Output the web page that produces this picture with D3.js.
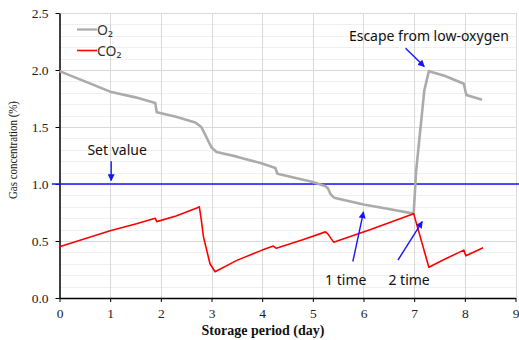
<!DOCTYPE html>
<html><head><meta charset="utf-8">
<script src="https://cdn.jsdelivr.net/npm/d3@7"></script>
<style>
html,body{margin:0;padding:0;background:#fff;}
svg{display:block;}
</style></head>
<body>
<svg id="chart" width="519" height="340"></svg>
<script>
// ---- data ----
const o2Day = [0, 0.5, 1.0, 1.5, 1.89, 1.92, 2.3, 2.68, 2.8, 2.9, 3.0, 3.1, 3.5, 4.0, 4.26, 4.3, 4.6, 4.98, 5.25, 5.3, 5.35, 5.42, 5.7, 6.0, 6.5, 6.99, 7.04, 7.2, 7.29, 7.6, 7.98, 8.03, 8.34];
const o2Val = [1.99, 1.90, 1.81, 1.76, 1.71, 1.63, 1.59, 1.54, 1.50, 1.41, 1.32, 1.28, 1.24, 1.18, 1.14, 1.09, 1.06, 1.02, 0.98, 0.96, 0.91, 0.88, 0.85, 0.82, 0.78, 0.74, 1.12, 1.82, 1.99, 1.95, 1.88, 1.78, 1.74];
const co2Day = [0, 0.5, 1.0, 1.5, 1.89, 1.92, 2.3, 2.71, 2.76, 2.8, 2.84, 2.97, 3.07, 3.5, 4.0, 4.22, 4.28, 4.8, 5.25, 5.3, 5.41, 6.14, 6.99, 7.29, 7.6, 7.98, 8.02, 8.36];
const co2Val = [0.45, 0.52, 0.59, 0.65, 0.70, 0.67, 0.72, 0.79, 0.80, 0.68, 0.54, 0.30, 0.23, 0.33, 0.42, 0.456, 0.436, 0.51, 0.58, 0.56, 0.49, 0.60, 0.74, 0.27, 0.34, 0.42, 0.37, 0.44];
const setValue = 1.0;
const setLineDays = [-0.15, 9.08];
const xTicks = [0,1,2,3,4,5,6,7,8,9];
const yTicks = [0, 0.5, 1.0, 1.5, 2.0, 2.5];
const yMinorTicks = d3.range(0, 2.51, 0.1);
const legendLabels = ["O\u2082", "CO\u2082"];
const xTitle = "Storage period (day)";
const yTitle = "Gas concentration (%)";
// annotations: text position and arrow (from -> to) in data units
const notes = [
  {text:"Set value", tx:1.137, ty:1.254, from:[1.02,1.20], to:[1.02,1.03]},
  {text:"Escape from low-oxygen", tx:7.29, ty:2.257, from:[6.83,2.19], to:[7.2,2.03]},
  {text:"1 time", tx:5.65, ty:0.114, from:[5.79,0.32], to:[6.0,0.755]},
  {text:"2 time", tx:6.9, ty:0.114, from:[6.68,0.333], to:[7.16,0.67]}
];

// ---- layout ----
const svg = d3.select("#chart");
const x = d3.scaleLinear().domain([0,9]).range([59.5,515.5]);
const y = d3.scaleLinear().domain([0,2.5]).range([298,13]);
const blue = "#1414ff";
const SERIF = '"Liberation Serif"';
const SANS = '"Noto Sans"';

// minor grid
svg.append("g").selectAll("line").data(yMinorTicks).join("line")
  .attr("x1", x(0)).attr("x2", x(9))
  .attr("y1", d=>Math.round(y(d))+0.5).attr("y2", d=>Math.round(y(d))+0.5)
  .attr("stroke", "#f0f0f0").attr("stroke-width",1);
// major grid
svg.append("g").selectAll("line").data(yTicks).join("line")
  .attr("x1", x(0)).attr("x2", x(9))
  .attr("y1", d=>Math.round(y(d))+0.5).attr("y2", d=>Math.round(y(d))+0.5)
  .attr("stroke", "#d9d9d9").attr("stroke-width",1);
svg.append("g").selectAll("line").data(xTicks.slice(1)).join("line")
  .attr("x1", d=>Math.round(x(d))+0.5).attr("x2", d=>Math.round(x(d))+0.5)
  .attr("y1", y(0)).attr("y2", y(2.5))
  .attr("stroke", "#d9d9d9").attr("stroke-width",1);

// axes
const xAxis = d3.axisBottom(x).tickValues(xTicks).tickSize(4).tickSizeOuter(0).tickPadding(6).tickFormat(d3.format("d"));
const yAxis = d3.axisLeft(y).tickValues(yTicks).tickSize(4).tickSizeOuter(0).tickPadding(7).tickFormat(d3.format(".1f"));
const gx = svg.append("g").attr("transform", `translate(0,${y(0)})`).call(xAxis);
const gy = svg.append("g").attr("transform", `translate(${x(0)},0)`).call(yAxis);
[gx, gy].forEach(g => {
  g.attr("font-family", null).attr("font-size", null);
  g.select(".domain").attr("stroke","#000").attr("stroke-width",1.5);
  g.selectAll(".tick line").attr("stroke","#000").attr("stroke-width",1);
  g.selectAll(".tick text").style("font-family", SERIF).style("font-size","13.5px").attr("fill","#222");
});

// set value line
svg.append("line")
  .attr("x1", x(setLineDays[0])).attr("x2", x(setLineDays[1]))
  .attr("y1", y(setValue)).attr("y2", y(setValue))
  .attr("stroke", blue).attr("stroke-width", 1.5);

// series
const o2 = o2Day.map((d,i)=>[d,o2Val[i]]);
const co2 = co2Day.map((d,i)=>[d,co2Val[i]]);
const line = d3.line().x(d=>x(d[0])).y(d=>y(d[1]));
svg.append("path").datum(o2).attr("d", line).attr("fill","none")
  .attr("stroke","#ababab").attr("stroke-width",2.6).attr("stroke-linejoin","round");
svg.append("path").datum(co2).attr("d", line).attr("fill","none")
  .attr("stroke","#ff0000").attr("stroke-width",1.6).attr("stroke-linejoin","round");

// legend
const legColors = ["#ababab", "#ff0000"];
const leg = svg.append("g");
legendLabels.forEach((t,i) => {
  const ly = 29.5 + i*21;
  leg.append("line").attr("x1",77).attr("x2",97).attr("y1",ly).attr("y2",ly)
    .attr("stroke",legColors[i]).attr("stroke-width", i===0?2.2:1.6);
  leg.append("text").attr("x",97).attr("y",ly+5).style("font-family",SANS)
    .style("font-size","14px").attr("fill","#333").text(t);
});

// annotations
svg.append("defs").append("marker").attr("id","ah")
  .attr("viewBox","0 0 10 10").attr("refX",9).attr("refY",5)
  .attr("markerWidth",7).attr("markerHeight",7).attr("markerUnits","userSpaceOnUse")
  .attr("orient","auto")
  .append("path").attr("d","M0,0L10,5L0,10Z").attr("fill",blue);
notes.forEach(n => {
  svg.append("line").attr("x1",x(n.from[0])).attr("y1",y(n.from[1]))
    .attr("x2",x(n.to[0])).attr("y2",y(n.to[1]))
    .attr("stroke",blue).attr("stroke-width",1.4).attr("marker-end","url(#ah)");
  svg.append("text").attr("x",x(n.tx)).attr("y",y(n.ty)).attr("text-anchor","middle")
    .style("font-family",SANS).style("font-size","14px").attr("fill","#111").text(n.text);
});

// titles
svg.append("text").attr("x",263).attr("y",335).attr("text-anchor","middle")
  .style("font-family",SERIF).style("font-weight","bold").style("font-size","14px").attr("fill","#111")
  .text(xTitle);
svg.append("text").attr("transform","translate(17,150) rotate(-90)").attr("text-anchor","middle")
  .style("font-family",SERIF).style("font-size","13px").attr("fill","#111")
  .attr("textLength",98).attr("lengthAdjust","spacingAndGlyphs")
  .text(yTitle);
</script>
</body></html>
